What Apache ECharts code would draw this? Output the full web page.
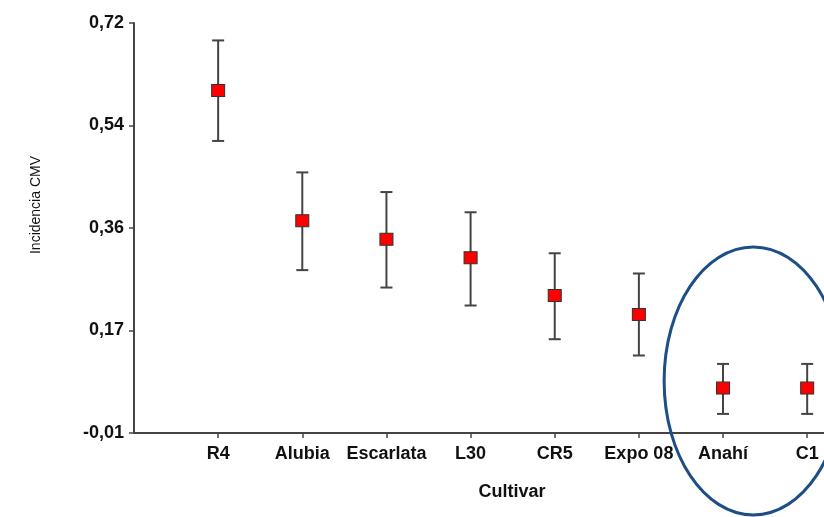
<!DOCTYPE html>
<html>
<head>
<meta charset="utf-8">
<script src="https://cdn.jsdelivr.net/npm/echarts@6/dist/echarts.min.js"></script>
<style>
  html, body { margin: 0; padding: 0; background: #fff; }
  #chart { width: 824px; height: 517px; }
</style>
</head>
<body>
<div id="chart"></div>
<script>
// cultivars and estimated incidence (mean with upper/lower error limits)
const categories = ['R4', 'Alubia', 'Escarlata', 'L30', 'CR5', 'Expo 08', 'Anahí', 'C1'];
const means = [0.600, 0.368, 0.335, 0.302, 0.235, 0.201, 0.070, 0.070];
const upper = [0.689, 0.454, 0.419, 0.383, 0.310, 0.274, 0.113, 0.113];
const lower = [0.510, 0.280, 0.249, 0.217, 0.157, 0.128, 0.024, 0.024];

// y axis ticks (4 equal steps from -0.01 to 0.72, shown with 2 decimals)
const yTicks = [-0.01, 0.1725, 0.355, 0.5375, 0.72];
const yTickLabels = ['-0,01', '0,17', '0,36', '0,54', '0,72'];

// cultivars that get circled
const circled = ['Anahí', 'C1'];

const xIdx = categories.map((c, i) => i);
const fontFam = '"Liberation Sans", Arial, sans-serif';

const chart = echarts.init(document.getElementById('chart'));

const option = {
    animation: false,
    backgroundColor: '#fff',
    grid: { left: 134, right: 0, top: 23, bottom: 84 },
    xAxis: {
        type: 'value',
        min: -1,
        max: 7.2,
        name: 'Cultivar',
        nameLocation: 'middle',
        nameGap: 50,
        nameTextStyle: {
            fontFamily: fontFam, fontSize: 18, fontWeight: 'bold', color: '#111',
            padding: [0, 0, 0, 66]
        },
        splitLine: { show: false },
        axisLine: { onZero: false, lineStyle: { color: '#444', width: 2 } },
        axisTick: { customValues: xIdx, length: 5, lineStyle: { color: '#444', width: 1.5 } },
        axisLabel: {
            customValues: xIdx,
            margin: 12,
            fontFamily: fontFam, fontSize: 18, fontWeight: 'bold', color: '#111',
            formatter: v => categories[Math.round(v)]
        }
    },
    yAxis: {
        type: 'value',
        min: -0.01,
        max: 0.72,
        name: 'Incidencia CMV',
        nameLocation: 'middle',
        nameRotate: 90,
        nameGap: 91,
        nameTextStyle: {
            fontFamily: fontFam, fontSize: 14, color: '#111',
            padding: [0, 0, 0, 46]
        },
        splitLine: { show: false },
        axisLine: { show: true, onZero: false, lineStyle: { color: '#444', width: 2 } },
        axisTick: { show: true, customValues: yTicks, length: 5, lineStyle: { color: '#444', width: 1.5 } },
        axisLabel: {
            customValues: yTicks,
            margin: 10,
            fontFamily: fontFam, fontSize: 18, fontWeight: 'bold', color: '#111',
            formatter: v => {
                let best = 0;
                yTicks.forEach((t, i) => {
                    if (Math.abs(t - v) < Math.abs(yTicks[best] - v)) best = i;
                });
                return yTickLabels[best];
            }
        }
    },
    series: [
        {
            type: 'custom',
            name: 'error',
            data: xIdx.map(i => [i, lower[i], upper[i]]),
            renderItem: (params, api) => {
                const lo = api.coord([api.value(0), api.value(1)]);
                const hi = api.coord([api.value(0), api.value(2)]);
                const cap = 6;
                const style = { stroke: '#444', lineWidth: 2 };
                return {
                    type: 'group',
                    children: [
                        { type: 'line', shape: { x1: lo[0], y1: lo[1], x2: hi[0], y2: hi[1] }, style },
                        { type: 'line', shape: { x1: lo[0] - cap, y1: lo[1], x2: lo[0] + cap, y2: lo[1] }, style },
                        { type: 'line', shape: { x1: hi[0] - cap, y1: hi[1], x2: hi[0] + cap, y2: hi[1] }, style }
                    ]
                };
            },
            z: 2
        },
        {
            type: 'scatter',
            name: 'mean',
            data: xIdx.map(i => [i, means[i]]),
            symbol: 'rect',
            symbolSize: [13, 12],
            itemStyle: { color: '#ff0000', borderColor: '#333', borderWidth: 1, opacity: 1 },
            z: 3
        }
    ]
};

chart.setOption(option);

// ellipse drawn round the circled cultivars
const ci = circled.map(c => categories.indexOf(c));
const p0 = chart.convertToPixel({ gridIndex: 0 }, [ci[0], lower[ci[0]]]);
const p1 = chart.convertToPixel({ gridIndex: 0 }, [ci[ci.length - 1], upper[ci[ci.length - 1]]]);
const band = p1[0] - p0[0];
chart.setOption({
    graphic: [{
        type: 'ellipse',
        shape: {
            cx: p0[0] + band * 0.36,
            cy: (p0[1] + p1[1]) / 2 - 8,
            rx: band * 1.06,
            ry: 134
        },
        style: { fill: 'none', stroke: '#1d4f86', lineWidth: 3 },
        z: 10
    }]
});
</script>
</body>
</html>
